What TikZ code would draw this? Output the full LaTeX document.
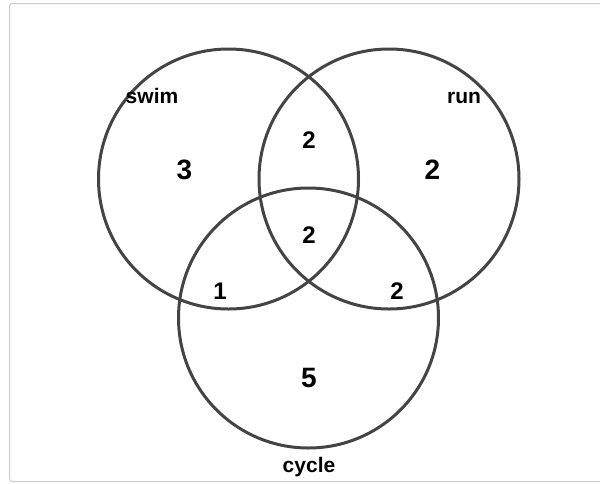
\documentclass[tikz,border=0pt]{standalone}
\usepackage{fontspec}
\setmainfont{Liberation Sans}
\usetikzlibrary{positioning}
\definecolor{ringgray}{HTML}{444444}
\definecolor{framegray}{HTML}{CCCCCC}
\tikzstyle{ring} = [%
  circle,
  draw=ringgray,
  line width=3pt,
  minimum size=260pt,
  inner sep=0pt,
  fill=none
]
\tikzstyle{bignum} = [%
  font=\fontsize{28}{32}\selectfont\bfseries,
  inner sep=0pt,
  text centered
]
\tikzstyle{smallnum} = [%
  font=\fontsize{24}{28}\selectfont\bfseries,
  inner sep=0pt,
  text centered
]
\tikzstyle{setname} = [%
  font=\fontsize{21}{25}\selectfont\bfseries,
  inner sep=0pt,
  anchor=base
]
\begin{document}
\begin{tikzpicture}[%
  x=1pt,
  y=-1pt,
  frame/.style={draw=framegray,line width=1pt,rounded corners=3pt}
]
  \useasboundingbox (0,0) rectangle (600,483);

  % Frame
  \draw[frame] (9.5,3.5) rectangle (620,481.5);

  % Sets
  \node[ring] (Swim) at (228.5,179) {};
  \node[ring] (Run) at (389,179) {};
  \node[ring] (Cycle) at (308.5,318) {};

  % Set names
  \node[setname] (Tswim) at (152,103) {swim};
  \node[setname] (Trun) at (464,103) {run};
  \node[setname] (Tcycle) at (309,472) {cycle};

  % Region counts
  \node[bignum] (Nswim) at (184.5,170) {3};
  \node[bignum] (Nrun) at (432.5,170) {2};
  \node[bignum] (Ncycle) at (309,378) {5};
  \node[smallnum] (Nswimrun) at (309,140) {2};
  \node[smallnum] (Nall) at (309,235) {2};
  \node[smallnum] (Nswimcycle) at (220,291) {1};
  \node[smallnum] (Nruncycle) at (397,291) {2};

\end{tikzpicture}
\end{document}
